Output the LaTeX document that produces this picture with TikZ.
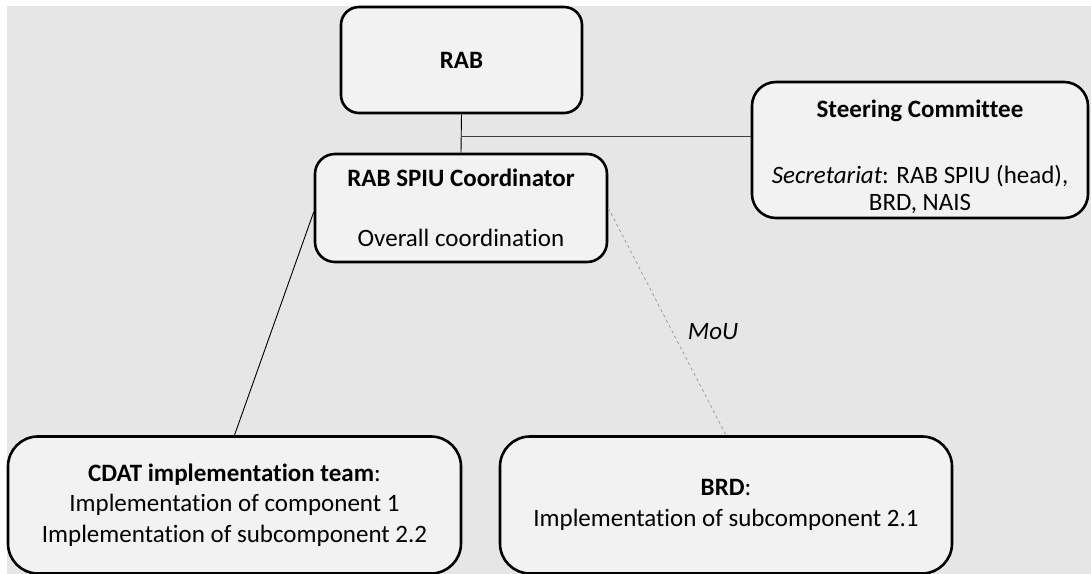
\documentclass[tikz,border=0pt]{standalone}
\usepackage{fontspec}
\setmainfont{Carlito}[Ligatures=NoCommon]
\usetikzlibrary{calc}
\definecolor{bggray}{HTML}{E6E6E6}
\definecolor{boxfill}{HTML}{F2F2F2}
\definecolor{dashgray}{HTML}{A6A6A6}
\definecolor{linegray}{HTML}{404040}
\tikzset{
  orgbox/.style={draw=black, line width=2.6bp, fill=boxfill, align=center,
    inner sep=0pt, font=\fontsize{25bp}{30.5bp}\selectfont},
  txt/.style={inner sep=0pt, align=center, font=\fontsize{25bp}{30.5bp}\selectfont},
  link/.style={draw=black, line width=0.9bp},
  moulink/.style={draw=dashgray, line width=0.9bp, dash pattern=on 3bp off 3bp},
}
\begin{document}
\begin{tikzpicture}[x=1bp,y=-1bp]
\useasboundingbox (0,0) rectangle (1091,574);
\clip (0,0) rectangle (1091,574);
\fill[bggray] (7,6) rectangle (1092,575);

% boxes
\node[orgbox, rounded corners=18bp, minimum width=241bp, minimum height=106bp]
  (rab) at (461.5,60) {\textbf{RAB}};
\node[orgbox, rounded corners=20bp, minimum width=292bp, minimum height=108bp]
  (coord) at (461,208) {\textbf{RAB SPIU Coordinator}\\[30bp]Overall coordination};
\node[orgbox, rounded corners=24bp, minimum width=336bp, minimum height=136bp]
  (steer) at (920,150) {};
\node[txt] (steertitle) at (920,111) {\textbf{Steering Committee}};
\node[txt, font=\fontsize{25bp}{27bp}\selectfont] (steerbody) at (920,189)
  {\textit{Secretariat}: RAB SPIU (head),\\BRD, NAIS};
\node[orgbox, rounded corners=30bp, minimum width=453bp, minimum height=137bp]
  (cdat) at (234.5,505) {\textbf{CDAT implementation team}:\\Implementation of component 1\\Implementation of subcomponent 2.2};
\node[orgbox, rounded corners=30bp, minimum width=452bp, minimum height=137bp]
  (brd) at (726,505) {\textbf{BRD}:\\Implementation of subcomponent 2.1};

% connectors
\draw[link] (rab.south) -- (coord.north);
\coordinate (junction) at (461,136);
\draw[link, draw=linegray] (junction) -- (junction -| steer.west);
\draw[link] ($(coord.west)+(0,4)$) -- (cdat.north);
\draw[moulink] (coord.east) -- (brd.north);
\node[txt, font=\fontsize{25bp}{30bp}\selectfont\itshape] (mou) at (713,332) {MoU};
\end{tikzpicture}
\end{document}
